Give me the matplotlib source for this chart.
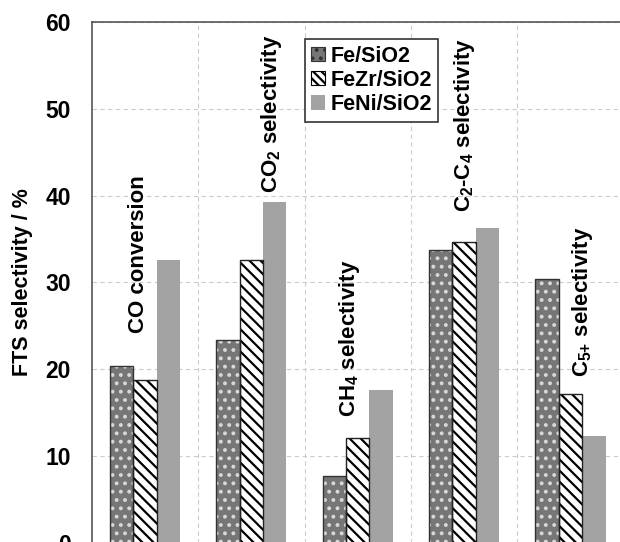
import matplotlib
matplotlib.use("Agg")
import matplotlib.pyplot as plt
from matplotlib.patches import Patch
import numpy as np

plt.rcParams['font.family'] = ['Liberation Sans', 'DejaVu Sans']
plt.rcParams['font.weight'] = 'bold'
plt.rcParams['mathtext.fontset'] = 'custom'
plt.rcParams['mathtext.rm'] = 'Liberation Sans:bold'
plt.rcParams['mathtext.bf'] = 'Liberation Sans:bold'
plt.rcParams['hatch.linewidth'] = 1.6

groups = ["CO conversion", "CO$_2$ selectivity", "CH$_4$ selectivity",
          "C$_2$-C$_4$ selectivity", "C$_{5{+}}$ selectivity"]
catalysts = ["Fe/SiO2", "FeZr/SiO2", "FeNi/SiO2"]
fe = [20.4, 23.4, 7.7, 33.7, 30.4]
fezr = [18.7, 32.6, 12.0, 34.6, 17.1]
feni = [32.6, 39.2, 17.6, 36.2, 12.3]
yticks = [0, 10, 20, 30, 40, 50, 60]

fig = plt.figure(figsize=(6.2, 5.42), dpi=100)
ax = fig.add_axes([0.148, -0.001, 0.858, 0.9604])

x = np.arange(1, len(groups) + 1)
w = 0.22

# Fe/SiO2: dark grey with white dots
ax.bar(x - w, fe, w, facecolor='#767676', edgecolor='#d8d8d8', hatch='..',
       linewidth=0, zorder=3)
ax.bar(x - w, fe, w, facecolor='none', edgecolor='#333333', linewidth=1.0,
       zorder=4)
# FeZr/SiO2: white with black diagonal stripes
ax.bar(x, fezr, w, facecolor='white', edgecolor='black', hatch='\\\\\\',
       linewidth=0, zorder=3)
ax.bar(x, fezr, w, facecolor='none', edgecolor='#222222', linewidth=1.0,
       zorder=4)
# FeNi/SiO2: plain grey
ax.bar(x + w, feni, w, facecolor='#a3a3a3', edgecolor='none', zorder=3)

handles = [
    Patch(facecolor='#767676', edgecolor='#333333', hatch='..', linewidth=0.8),
    Patch(facecolor='white', edgecolor='black', hatch='\\\\\\\\', linewidth=0.8),
    Patch(facecolor='#a3a3a3', edgecolor='none'),
]
leg = ax.legend(handles, catalysts, loc='upper left',
                bbox_to_anchor=(0.4, 0.967), fontsize=15.5, frameon=True,
                fancybox=False, edgecolor='#333333', framealpha=1,
                handlelength=0.65, handleheight=0.65, handletextpad=0.25,
                borderpad=0.3, labelspacing=0.15, borderaxespad=0)
leg.get_frame().set_linewidth(1.2)
leg.set_zorder(6)

# Group labels, written vertically above the bars
label_pos = [(0.944, 24.1), (2.19, 40.3), (2.925, 14.5), (4.0, 38.1), (5.11, 19.1)]
for lab, (lx, ly) in zip(groups, label_pos):
    ax.text(lx, ly, lab, rotation=90, ha='center', va='bottom',
            fontsize=16, fontweight='bold', zorder=5)

ax.set_xlim(0.5, 5.5)
ax.set_ylim(0, 60)
ax.set_yticks(yticks)
ax.set_xticks([1.5, 2.5, 3.5, 4.5])
ax.tick_params(axis='x', length=0, labelbottom=False)
ax.tick_params(axis='y', length=0, labelsize=16.5, pad=15)
for t in ax.get_yticklabels():
    t.set_fontweight('bold')
ax.grid(True, color='#cccccc', linestyle=(0, (4, 3)), linewidth=0.8, zorder=0)
ax.set_axisbelow(True)
for s in ax.spines.values():
    s.set_color('#555555')
    s.set_linewidth(1.2)

ax.set_ylabel('FTS selectivity / %', fontsize=15.5, fontweight='bold',
              labelpad=9)

fig.savefig('out.png', dpi=100)
